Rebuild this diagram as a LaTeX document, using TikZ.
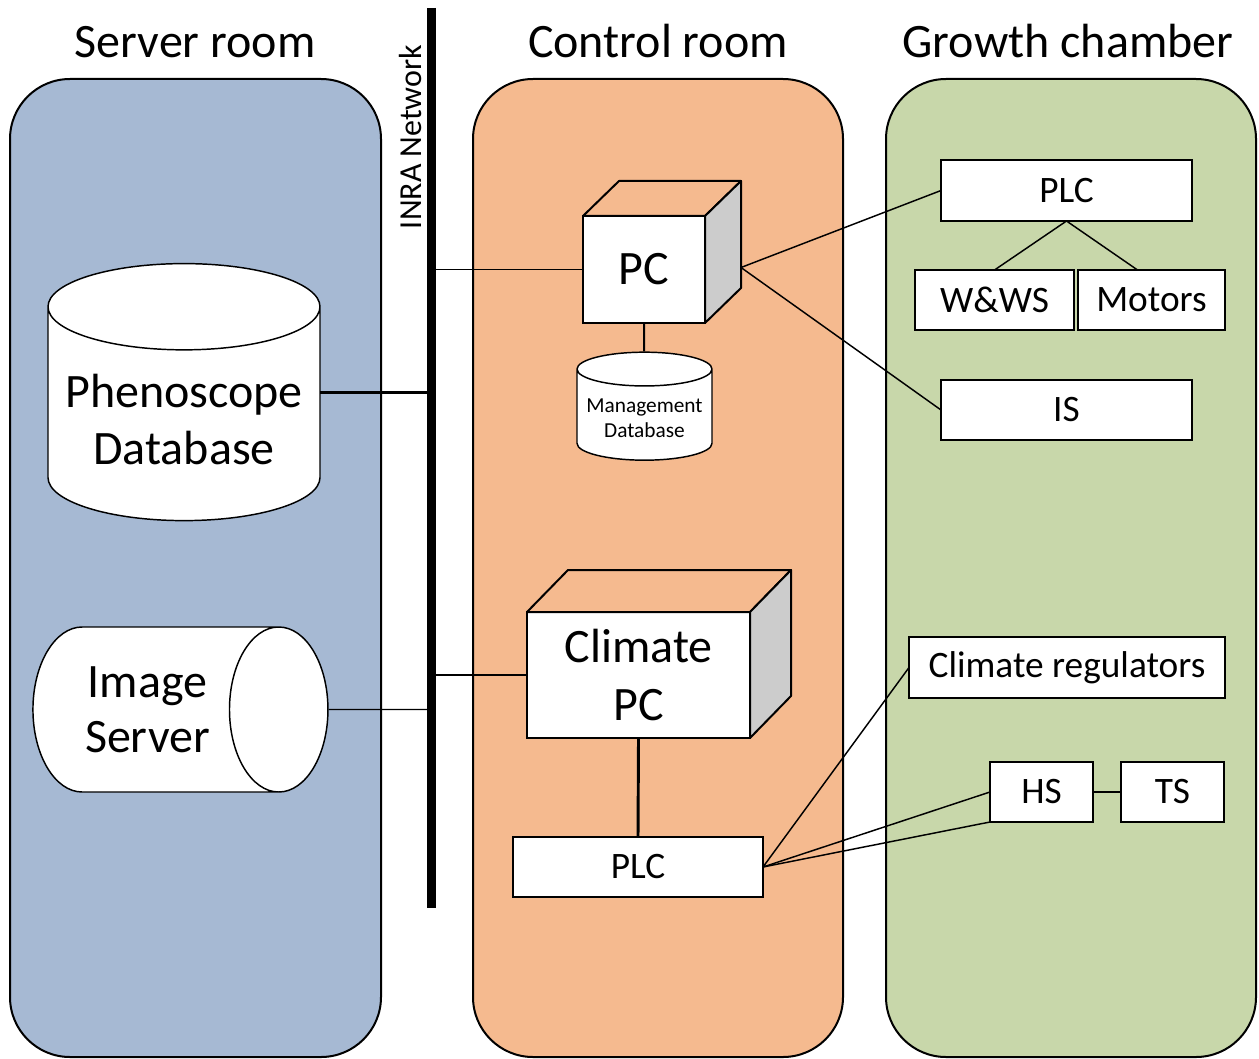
\documentclass[tikz,border=0pt]{standalone}
\usepackage{fontspec}
\setmainfont{Carlito}
\usepackage{tikz}
\usetikzlibrary{shapes.geometric, positioning, calc}
\definecolor{srvblue}{RGB}{166,185,211}
\definecolor{ctlorange}{RGB}{245,186,143}
\definecolor{chgreen}{RGB}{200,215,170}
\definecolor{sidegray}{RGB}{204,204,204}
\tikzstyle{room} = [draw=black, line width=1.5pt, rounded corners=45pt]
\tikzstyle{roomtitle} = [anchor=base, inner sep=0pt, font=\fontsize{36}{40}\selectfont]
\tikzstyle{device} = [rectangle, draw=black, line width=1.5pt, fill=white, outer sep=0pt, text centered, font=\fontsize{28}{32}\selectfont]
\tikzstyle{cube} = [rectangle, draw=black, line width=1.5pt, fill=white, outer sep=0pt, align=center, font=\fontsize{36}{43}\selectfont]
\tikzstyle{face} = [draw=black, line width=1.5pt, line join=round]
\tikzstyle{db} = [cylinder, draw=black, line width=1.1pt, fill=white, align=center]
\tikzstyle{link} = [line width=1.1pt]
\tikzstyle{heavylink} = [line width=2.2pt]

\begin{document}
\begin{tikzpicture}[x=0.75pt, y=-0.75pt]
    \useasboundingbox (0,0) rectangle (1259,1059);
    % rooms
    \draw [room, fill=srvblue] (10,79) rectangle (381,1057);
    \draw [room, fill=ctlorange] (473,79) rectangle (843,1057);
    \draw [room, fill=chgreen] (886,79) rectangle (1256,1057);
    \node (srvtitle) [roomtitle] at (195,58) {Server room};
    \node (ctltitle) [roomtitle] at (658,58) {Control room};
    \node (chtitle) [roomtitle] at (1068,58) {Growth chamber};

    % network
    \coordinate (nettop) at (431.5,8);
    \coordinate (netbot) at (431.5,908);
    \node (netlabel) [rotate=90, font=\fontsize{24}{28}\selectfont] at (411,137) {INRA Network};

    % server room
    \node (phdb) [db, shape border rotate=90, aspect=0.35, minimum width=204pt, minimum height=192.75pt, font=\fontsize{36}{43}\selectfont] at (184,419.5) {Phenoscope\\Database};
    \node (imgsrv) [db, aspect=1.04, minimum width=123.75pt, minimum height=221.25pt, font=\fontsize{36}{41}\selectfont] at (147.5,709.5) {Image\\Server};

    % control room
    \node (pcbox) [cube, minimum width=91.5pt, minimum height=80.25pt] at (644,269.5) {PC};
    \draw [face] (pcbox.north west) -- ++(36,-35) -- ($(pcbox.north east)+(36,-35)$) -- (pcbox.north east) -- cycle;
    \draw [face, fill=sidegray] (pcbox.north east) -- ++(36,-35) -- ($(pcbox.south east)+(36,-35)$) -- (pcbox.south east) -- cycle;
    \coordinate (pcport) at ($(pcbox.east)+(36,-2)$);
    \node (mgdb) [db, shape border rotate=90, aspect=0.27, minimum width=101.25pt, minimum height=81pt, font=\fontsize{16}{19}\selectfont] at (644.5,418) {Management\\Database};

    \node (cpcbox) [cube, minimum width=167.25pt, minimum height=94.5pt] at (638.5,675) {Climate\\PC};
    \draw [face] (cpcbox.north west) -- ++(41,-42) -- ($(cpcbox.north east)+(41,-42)$) -- (cpcbox.north east) -- cycle;
    \draw [face, fill=sidegray] (cpcbox.north east) -- ++(41,-42) -- ($(cpcbox.south east)+(41,-42)$) -- (cpcbox.south east) -- cycle;
    \node (ctlplc) [device, minimum width=187.5pt, minimum height=45pt] at (638,867) {PLC};

    % growth chamber
    \node (gcplc) [device, minimum width=188.25pt, minimum height=45.75pt] at (1066.5,190.5) {PLC};
    \node (wws) [device, minimum width=119.25pt, minimum height=45pt] at (994.5,300) {W\&WS};
    \node (motors) [device, minimum width=110.25pt, minimum height=45pt, right=3pt of wws] {Motors};
    \node (iscell) [device, minimum width=188.25pt, minimum height=45pt] at (1066.5,410) {IS};
    \node (climreg) [device, minimum width=237pt, minimum height=45.75pt] at (1067,667.5) {Climate regulators};
    \node (hscell) [device, minimum width=77.25pt, minimum height=45pt] at (1041.5,792) {HS};
    \node (tscell) [device, minimum width=77.25pt, minimum height=45pt, right=21pt of hscell] {TS};

    % connections
    \draw [heavylink] ($(phdb.shape center)+(136,0)$) -- (phdb.shape center -| nettop);
    \draw [link] (imgsrv) -- (imgsrv -| nettop);
    \draw [link] (pcbox.west) -- (pcbox.west -| nettop);
    \draw [heavylink] (cpcbox.west) -- (cpcbox.west -| nettop);
    \draw [line width=1.5pt] (pcbox.south) -- (mgdb);
    \draw [heavylink] (cpcbox.south) -- (ctlplc.north);
    \draw [link] (pcport) -- (gcplc.west);
    \draw [link] (pcport) -- (iscell.west);
    \draw [link] (gcplc.south) -- (wws.north);
    \draw [link] (gcplc.south) -- ($(motors.north)!0.19!(motors.north west)$);
    \draw [link] (ctlplc.east) -- (climreg.west);
    \draw [link] (ctlplc.east) -- (hscell.west);
    \draw [link] (ctlplc.east) -- (hscell.south west);
    \draw [link] (hscell.east) -- (tscell.west);
    \draw [line width=6.75pt] (nettop) -- (netbot);
\end{tikzpicture}
\end{document}
